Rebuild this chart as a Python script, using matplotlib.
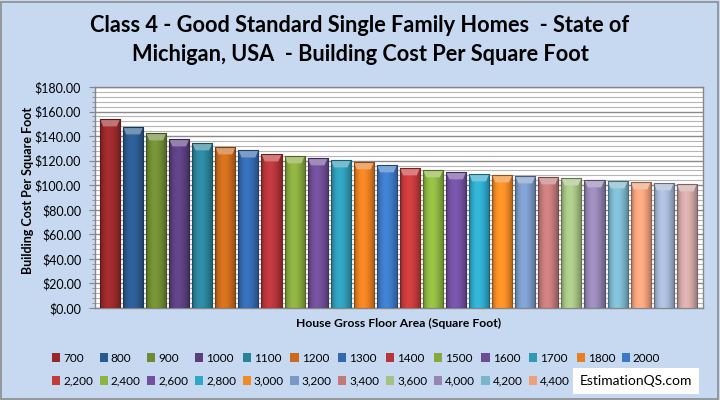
import numpy as np
import matplotlib
matplotlib.use("Agg")
import matplotlib.pyplot as plt
import matplotlib.colors as mcolors
from matplotlib.patches import Rectangle, Polygon
from matplotlib.ticker import MultipleLocator, FuncFormatter

plt.rcParams['font.family'] = ['Lato', 'DejaVu Sans']

# floor areas (legend labels) and cost per sq ft
areas = ['700', '800', '900', '1000', '1100', '1200', '1300', '1400', '1500',
         '1600', '1700', '1800', '2000', '2,200', '2,400', '2,600', '2,800',
         '3,000', '3,200', '3,400', '3,600', '4,000', '4,200', '4,400',
         '4,600', '4,800']
cost = [153.9, 147.4, 142.5, 137.6, 134.4, 131.1, 128.6, 125.4, 123.8,
        122.2, 120.5, 118.9, 116.5, 114.0, 112.4, 110.8, 109.1, 108.3,
        107.5, 106.7, 105.9, 104.3, 103.4, 102.6, 101.8, 101.0]
colors = ['#98292A', '#2B5A8F', '#6F8A33', '#5A3F7F', '#2A8399', '#C96A1C',
          '#3468AE', '#B6353A', '#88A83E', '#6E4C94', '#2E9AB5', '#E67E22',
          '#3C78C4', '#C43A3A', '#8DB441', '#7150A0', '#2FA8C8', '#F28A26',
          '#7A98C6', '#C27878', '#A5C183', '#9585B2', '#7AB5CB', '#EFA07A',
          '#A3B4D2', '#CFA5A5']
# the last two legend entries sit under the watermark box in the original
n_legend = 24

bg = '#C6D9F1'
fig = plt.figure(figsize=(7.2, 4.0), dpi=100, facecolor=bg)
fig.patches.append(Rectangle((0.002, 0.003), 0.995, 0.993, transform=fig.transFigure,
                             fill=False, edgecolor='#8C8C8C', linewidth=1.2))

ax = fig.add_axes([0.132, 0.23, 0.844, 0.5525])
ax.set_facecolor('white')

x = np.arange(len(cost))
width = 0.87
bars = ax.bar(x, cost, width=width, color=colors, edgecolor='none', zorder=3)
for b, lab in zip(bars, areas):
    b.set_label(lab)

# shaded look: horizontal gradient across each bar + lighter bevel on top
prof = np.linspace(0, 1, 40)
shade = 0.72 + 0.38 * np.sin(np.pi * prof ** 0.8)
for b, c in zip(bars, colors):
    rgb = np.array(mcolors.to_rgb(c))
    img = np.clip(rgb[None, None, :] * shade[None, :, None], 0, 1)
    x0 = b.get_x()
    x1 = x0 + b.get_width()
    h = b.get_height()
    im = ax.imshow(img, extent=(x0, x1, 0, h), aspect='auto', zorder=3.5,
                   interpolation='bicubic')
    im.set_clip_path(b)
    d = 0.14
    bh = 6.0
    light = np.clip(rgb + (1 - rgb) * 0.35, 0, 1)
    ax.add_patch(Polygon([(x0, h), (x1, h), (x1 - d, h - bh), (x0 + d, h - bh)],
                         closed=True, facecolor=light, edgecolor='none', zorder=4))
    ax.add_patch(Rectangle((x0, 0), x1 - x0, h, fill=False,
                           edgecolor=rgb * 0.6, linewidth=0.8, zorder=4.5))

ax.set_xlim(-0.65, 25.69)
ax.set_ylim(0, 180)
ax.yaxis.set_major_locator(MultipleLocator(20))
ax.yaxis.set_minor_locator(MultipleLocator(4))
ax.yaxis.set_major_formatter(FuncFormatter(lambda v, p: '${:.2f}'.format(v)))
ax.grid(which='major', axis='y', color='#8A8A8A', linewidth=1.0, zorder=1)
ax.grid(which='minor', axis='y', color='#B5B5B5', linewidth=0.8, zorder=1)
ax.set_xticks([])
ax.tick_params(axis='y', which='major', length=4, width=0.8, color='#868686',
               labelsize=9, pad=6)
ax.tick_params(axis='y', which='minor', length=2, width=0.6, color='#868686')
for s in ax.spines.values():
    s.set_color('#868686')
    s.set_linewidth(1.0)

fig.text(0.5, 1 - 40 / 400, 'Class 4 - Good Standard Single Family Homes  - State of\n'
         'Michigan, USA  - Building Cost Per Square Foot',
         ha='center', va='center', fontsize=15.7, fontweight='bold', linespacing=1.45)
fig.text(27.5 / 720, 1 - 190 / 400, 'Building Cost Per Square Foot', rotation=90,
         ha='center', va='center', fontsize=9, fontweight='bold')
fig.text(399 / 720, 1 - 323 / 400, 'House Gross Floor Area (Square Foot)',
         ha='center', va='center', fontsize=8.7, fontweight='bold')

# legend: two rows of 13 columns, filled row by row
n = 13
handles = list(bars)
order = []
for c in range(n):
    order += [i for i in (c, c + n) if i < n_legend]
leg = ax.legend([handles[i] for i in order], [areas[i] for i in order],
                ncol=n, loc='center left', bbox_to_anchor=(0.064, 0.076),
                bbox_transform=fig.transFigure, frameon=False, fontsize=8.5,
                handlelength=0.7, handleheight=0.7, handletextpad=0.25,
                columnspacing=0.55, labelspacing=1.0, borderpad=0)

fig.text(636 / 720, 1 - 381 / 400, 'EstimationQS.com', ha='center', va='center',
         fontsize=10, color='black', zorder=10,
         bbox=dict(boxstyle='square,pad=0.5', facecolor='white', edgecolor='none'))

fig.savefig('out.png', dpi=100, facecolor=bg)
